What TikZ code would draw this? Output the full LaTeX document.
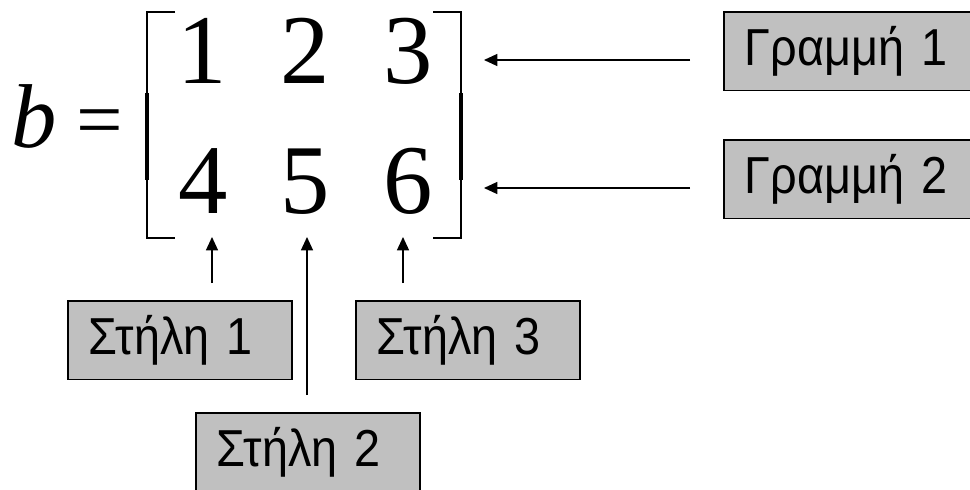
\documentclass[tikz,border=0pt]{standalone}
\usepackage{fontspec}
\setmainfont{Liberation Serif}
\setsansfont[FakeStretch=0.9]{Liberation Sans}
\usetikzlibrary{arrows.meta}
\definecolor{boxgray}{RGB}{192,192,192}
\tikzset{
every picture/.style={line width=1pt, >={Triangle[length=10pt,width=9pt]}},
%%%%%%%%%%  Node styles
entry/.style={font=\fontsize{74}{74}\selectfont, inner sep=0pt, anchor=base},
labelbox/.style={draw, line width=1.3pt, fill=boxgray, anchor=north west,
                 font=\sffamily\fontsize{39}{39}\selectfont,
                 minimum height=59pt, inner xsep=15.75pt, align=left},
%%%% bracket lines
bracket/.style={line width=2.2pt},
bracket mid/.style={line width=3.7pt},
%%%% connectors
pointer/.style={->, shorten <=12.75pt}
}

\begin{document}
\begin{tikzpicture}[x=0.75pt, y=-0.75pt]
\useasboundingbox (0,0) rectangle (970,489);
\node[entry, font=\fontsize{68}{68}\selectfont] (b) at (34,147) {\itshape b};
\node[entry, font=\fontsize{62}{62}\selectfont] (eq) at (100,147) {=};
\node[entry] (e11) at (202,83) {1};
\node[entry] (e12) at (305,83) {2};
\node[entry] (e13) at (408,83) {3};
\node[entry] (e21) at (203,213) {4};
\node[entry] (e22) at (305,213) {5};
\node[entry] (e23) at (408,213) {6};
\draw[bracket] (175,12) -- (147,12) -- (147,238) -- (175,238);
\draw[bracket mid] (147,93) -- (147,180);
\draw[bracket] (433,12) -- (461,12) -- (461,238) -- (433,238);
\draw[bracket mid] (461,93) -- (461,180);
\node[labelbox, text width=166.5pt] (row1) at (723,11) {Γραμμή 1};
\node[labelbox, text width=166.5pt] (row2) at (723,139) {Γραμμή 2};
\node[labelbox, text width=136.5pt] (col1) at (67,300) {Στήλη 1};
\node[labelbox, text width=136.5pt] (col3) at (355,300) {Στήλη 3};
\node[labelbox, text width=136.5pt] (col2) at (195,412) {Στήλη 2};
\coordinate (r1) at (484,60);
\coordinate (r2) at (484,188);
\coordinate (c1) at (212,237);
\coordinate (c2) at (307,237);
\coordinate (c3) at (403,237);
\draw[pointer, shorten <=24.75pt] (row1.west |- r1) -- (r1);
\draw[pointer, shorten <=24.75pt] (row2.west |- r2) -- (r2);
\draw[pointer] (c1 |- col1.north) -- (c1);
\draw[pointer] (c2 |- col2.north) -- (c2);
\draw[pointer] (c3 |- col3.north) -- (c3);
\end{tikzpicture}
\end{document}
